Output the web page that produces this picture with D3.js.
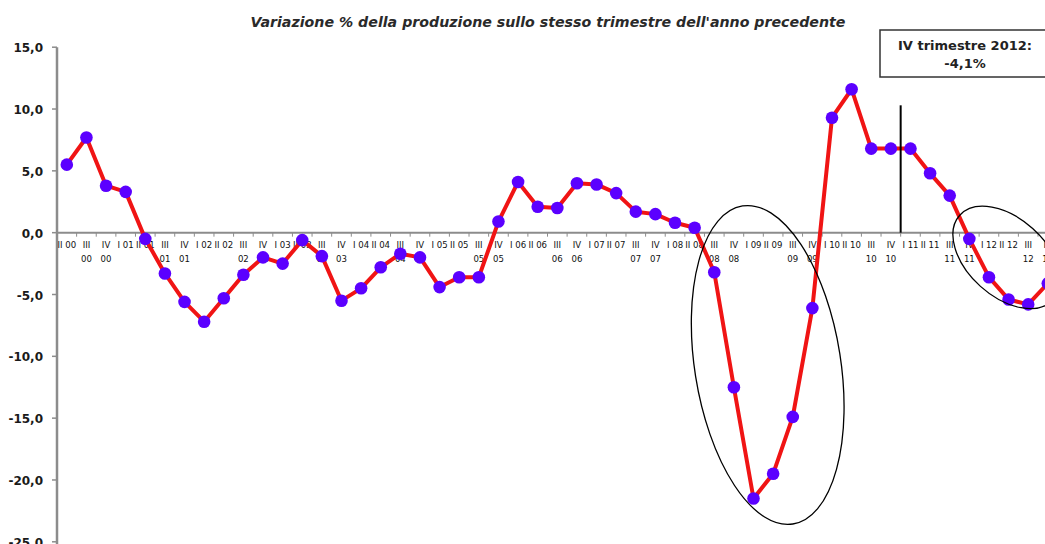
<!DOCTYPE html>
<html lang="it">
<head>
<meta charset="UTF-8">
<title>Variazione % della produzione</title>
<script src="https://d3js.org/d3.v7.min.js"></script>
<style>
  body { margin: 0; background: #fff; }
  text { font-family: "DejaVu Sans", sans-serif; fill: #000; }
</style>
</head>
<body>
<svg id="chart" width="1045" height="544"></svg>
<script>
// quarters II 2000 .. IV 2012
const quarters = [
  "II 00","III 00","IV 00",
  "I 01","II 01","III 01","IV 01",
  "I 02","II 02","III 02","IV 02",
  "I 03","II 03","III 03","IV 03",
  "I 04","II 04","III 04","IV 04",
  "I 05","II 05","III 05","IV 05",
  "I 06","II 06","III 06","IV 06",
  "I 07","II 07","III 07","IV 07",
  "I 08","II 08","III 08","IV 08",
  "I 09","II 09","III 09","IV 09",
  "I 10","II 10","III 10","IV 10",
  "I 11","II 11","III 11","IV 11",
  "I 12","II 12","III 12","IV 12"
];
// % change on same quarter of previous year
const variazione = [
  5.5, 7.7, 3.8,
  3.3, -0.5, -3.3, -5.6,
  -7.2, -5.3, -3.4, -2.0,
  -2.5, -0.6, -1.9, -5.5,
  -4.5, -2.8, -1.7, -2.0,
  -4.4, -3.6, -3.6, 0.9,
  4.1, 2.1, 2.0, 4.0,
  3.9, 3.2, 1.7, 1.5,
  0.8, 0.4, -3.2, -12.5,
  -21.5, -19.5, -14.9, -6.1,
  9.3, 11.6, 6.8, 6.8,
  6.8, 4.8, 3.0, -0.5,
  -3.6, -5.4, -5.8, -4.1
];
const yTicks = [15, 10, 5, 0, -5, -10, -15, -20, -25];
const title = "Variazione % della produzione sullo stesso trimestre dell'anno precedente";
const noteLines = ["IV trimestre 2012:", "-4,1%"];

const svg = d3.select("#chart");

const x = d3.scaleBand().domain(quarters).range([57, 57 + quarters.length * 19.62]);
const y = d3.scaleLinear().domain([-25, 15]).range([541.8, 47.2]);
const cx = d => x(d) + x.bandwidth() / 2;
const fmt = v => d3.format(".1f")(v).replace(".", ",").replace("−", "-");

// title
svg.append("text")
  .attr("x", 548).attr("y", 27)
  .attr("text-anchor", "middle")
  .style("font-size", "14.2px").style("font-style", "italic").style("font-weight", "bold")
  .style("fill", "#2a2a2a")
  .text(title);

// y axis
svg.append("line")
  .attr("x1", 57).attr("x2", 57).attr("y1", y(15)).attr("y2", 544)
  .attr("stroke", "#8c8c8c").attr("stroke-width", 2.5);
svg.selectAll(".ytick").data(yTicks).join("line")
  .attr("x1", 52).attr("x2", 57).attr("y1", d => y(d)).attr("y2", d => y(d))
  .attr("stroke", "#8c8c8c").attr("stroke-width", 1.5);
svg.selectAll(".ylab").data(yTicks).join("text")
  .attr("x", 43).attr("y", d => y(d) + 5)
  .attr("text-anchor", "end")
  .style("font-size", "12px").style("font-weight", "bold").style("fill", "#1a1a1a")
  .text(fmt);

// x axis at zero
svg.append("line")
  .attr("x1", 57).attr("x2", 1045).attr("y1", y(0)).attr("y2", y(0))
  .attr("stroke", "#8c8c8c").attr("stroke-width", 2);
svg.selectAll(".xtick").data(quarters).join("line")
  .attr("x1", d => x(d) + x.bandwidth()).attr("x2", d => x(d) + x.bandwidth())
  .attr("y1", y(0)).attr("y2", y(0) + 4)
  .attr("stroke", "#8c8c8c").attr("stroke-width", 1);
const xl = svg.selectAll(".xlab").data(quarters).join("text")
  .attr("text-anchor", "middle")
  .style("font-family", "'DejaVu Sans Condensed', 'DejaVu Sans', sans-serif")
  .style("font-size", "9.5px").style("fill", "#111");
xl.each(function(d) {
  const parts = d.split(" ");
  const t = d3.select(this);
  if (parts[0] === "III" || parts[0] === "IV") {
    t.append("tspan").attr("x", cx(d)).attr("y", y(0) + 15).text(parts[0]);
    t.append("tspan").attr("x", cx(d)).attr("y", y(0) + 29).text(parts[1]);
  } else {
    t.append("tspan").attr("x", cx(d)).attr("y", y(0) + 15).text(d);
  }
});

// series
const line = d3.line().x((d, i) => cx(quarters[i])).y(d => y(d));
svg.append("path")
  .datum(variazione)
  .attr("d", line)
  .attr("fill", "none").attr("stroke", "#f01414").attr("stroke-width", 4)
  .attr("stroke-linejoin", "round");
svg.selectAll(".pt").data(variazione).join("circle")
  .attr("cx", (d, i) => cx(quarters[i])).attr("cy", d => y(d))
  .attr("r", 6.3).attr("fill", "#5b00ff");

// vertical marker between IV 10 and I 11
const vx = x("I 11");
svg.append("line")
  .attr("x1", vx).attr("x2", vx).attr("y1", y(10.3)).attr("y2", y(0))
  .attr("stroke", "#000").attr("stroke-width", 2);

// ellipses highlighting the two recessions
svg.append("ellipse")
  .attr("transform", `translate(${(cx("IV 08") + cx("I 09")) / 2 + 24},${y(-10.7)}) rotate(-9)`)
  .attr("rx", 73).attr("ry", 161)
  .attr("fill", "none").attr("stroke", "#000").attr("stroke-width", 1.3);
svg.append("ellipse")
  .attr("transform", `translate(${cx("II 12") - 2},${y(-2.0)}) rotate(42)`)
  .attr("rx", 63).attr("ry", 39)
  .attr("fill", "none").attr("stroke", "#000").attr("stroke-width", 1.3);

// note box
svg.append("rect")
  .attr("x", 880).attr("y", 30).attr("width", 200).attr("height", 47)
  .attr("fill", "#fff").attr("stroke", "#333").attr("stroke-width", 1.5);
svg.selectAll(".note").data(noteLines).join("text")
  .attr("x", 965).attr("y", (d, i) => 50 + i * 18)
  .attr("text-anchor", "middle")
  .style("font-size", "13px").style("font-weight", "bold").style("fill", "#222")
  .text(d => d);
</script>
</body>
</html>
